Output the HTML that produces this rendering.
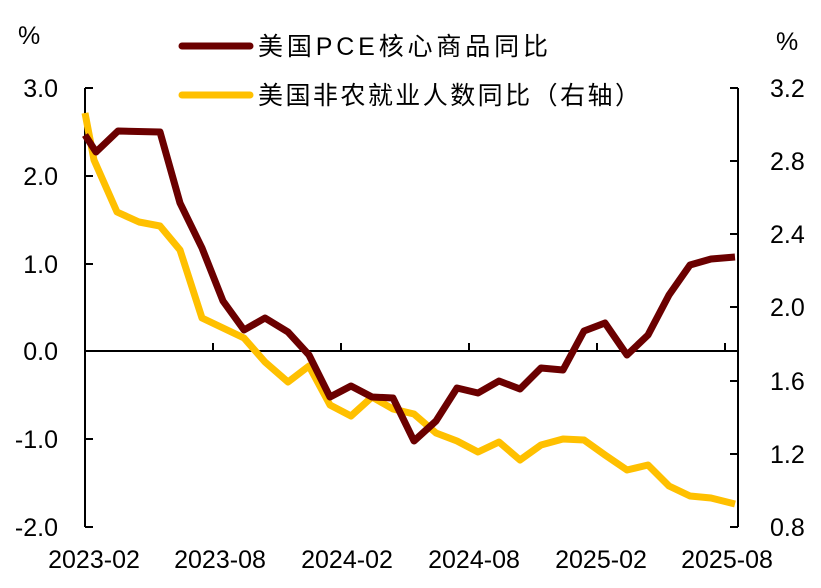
<!DOCTYPE html><html><head><meta charset="utf-8"><style>body{margin:0;background:#fff}svg text{font-family:"Liberation Sans","Noto Sans CJK SC",sans-serif;font-size:25px;fill:#000}</style></head><body>
<svg width="821" height="583" xmlns="http://www.w3.org/2000/svg">
<g stroke="#000" stroke-width="2" fill="none">
<line x1="85" y1="88" x2="85" y2="527"/>
<line x1="738" y1="88" x2="738" y2="527"/>
<line x1="85" y1="351" x2="738" y2="351"/>
<line x1="85" y1="88" x2="93" y2="88"/><line x1="85" y1="176" x2="93" y2="176"/><line x1="85" y1="264" x2="93" y2="264"/><line x1="85" y1="439" x2="93" y2="439"/><line x1="85" y1="527" x2="93" y2="527"/>
<line x1="730" y1="88" x2="738" y2="88"/><line x1="730" y1="161" x2="738" y2="161"/><line x1="730" y1="234" x2="738" y2="234"/><line x1="730" y1="307" x2="738" y2="307"/><line x1="730" y1="381" x2="738" y2="381"/><line x1="730" y1="454" x2="738" y2="454"/><line x1="730" y1="527" x2="738" y2="527"/>
<line x1="213" y1="351" x2="213" y2="343"/><line x1="341" y1="351" x2="341" y2="343"/><line x1="469" y1="351" x2="469" y2="343"/><line x1="597" y1="351" x2="597" y2="343"/><line x1="725" y1="351" x2="725" y2="343"/>
</g>
<polyline fill="none" stroke="#FFC000" stroke-width="7" stroke-linejoin="round" points="85,113 94,160 117,212 139,222 160,226 180,250 202,318 223,328 244,338 265,362 288,382 309,366 330,405 351,416 372,397 393,409 414,414 436,433 457,441 478,452 499,442 520,460 541,445 563,439 584,440 605,455 627,470 648,465 669,486 690,496 711,498 735,504"/>
<polyline fill="none" stroke="#6B0000" stroke-width="7" stroke-linejoin="round" points="85,135 96,152 118,131 160,132 180,203 202,248 223,301 244,330 265,318 288,332 309,355 330,397 351,386 372,397 393,398 414,441 436,421 457,388 478,393 499,381 520,389 541,368 563,370 584,331 605,323 627,355 648,335 669,295 690,265 711,259 735,257"/>
<line x1="182" y1="46" x2="250" y2="46" stroke="#6B0000" stroke-width="7" stroke-linecap="round"/>
<line x1="182" y1="95" x2="250" y2="95" stroke="#FFC000" stroke-width="7" stroke-linecap="round"/>
<g style="font-size:26px"><text x="258" y="55" textLength="290">美国PCE核心商品同比</text>
<text x="258" y="104" textLength="382">美国非农就业人数同比（右轴）</text></g>
<text x="18" y="44">%</text><text x="776" y="50">%</text>
<g text-anchor="end"><text x="58" y="97">3.0</text><text x="58" y="185">2.0</text><text x="58" y="273">1.0</text><text x="58" y="360">0.0</text><text x="58" y="448">-1.0</text><text x="58" y="536">-2.0</text></g>
<g><text x="770" y="97">3.2</text><text x="770" y="170">2.8</text><text x="770" y="243">2.4</text><text x="770" y="316">2.0</text><text x="770" y="390">1.6</text><text x="770" y="463">1.2</text><text x="770" y="536">0.8</text></g>
<g text-anchor="middle"><text x="94" y="568">2023-02</text><text x="220" y="568">2023-08</text><text x="347" y="568">2024-02</text><text x="474" y="568">2024-08</text><text x="601" y="568">2025-02</text><text x="727" y="568">2025-08</text></g>
</svg></body></html>
